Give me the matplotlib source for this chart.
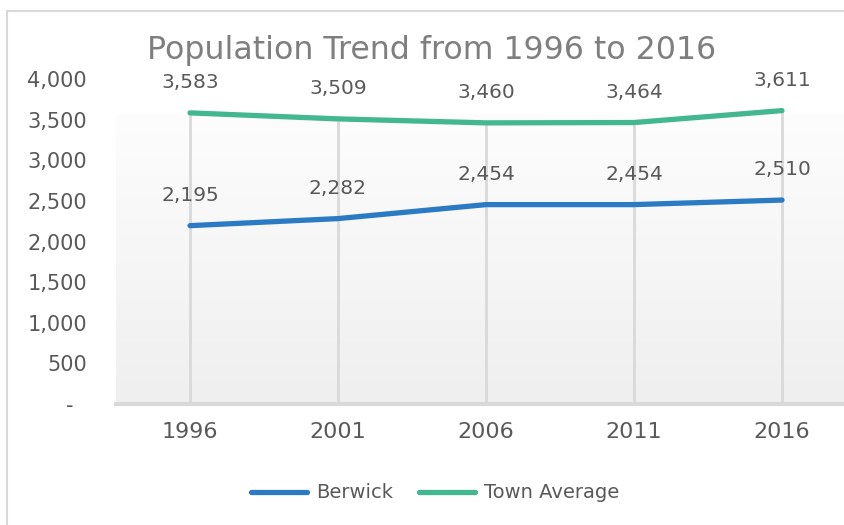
import matplotlib.pyplot as plt
import numpy as np
from matplotlib.lines import Line2D
from matplotlib.patches import Rectangle

years = ['1996', '2001', '2006', '2011', '2016']
berwick = [2195, 2282, 2454, 2454, 2510]
town_avg = [3583, 3509, 3460, 3464, 3611]
y_ticks = [0, 500, 1000, 1500, 2000, 2500, 3000, 3500, 4000]

blue = '#2b7bc4'
green = '#43b78f'
text_gray = '#595959'

plt.rcParams['font.family'] = ['DejaVu Sans']

fig = plt.figure(figsize=(8.44, 5.25), dpi=100)

# outer chart border (runs off the right and bottom edges)
fig.patches.append(Rectangle((7 / 844, -0.1), 1.2, (525 - 11) / 525 + 0.1,
                             transform=fig.transFigure, fill=False,
                             edgecolor='#d9d9d9', linewidth=1.5))

ax = fig.add_axes([116 / 844, (525 - 404) / 525, 740 / 844, 325 / 525])
ax.set_xlim(-0.5, 4.5)
ax.set_ylim(0, 4000)
ax.patch.set_alpha(0)

# gradient plot area fill
grad = np.linspace(0, 1, 256).reshape(-1, 1)
cmap = plt.matplotlib.colors.LinearSegmentedColormap.from_list('g', ['#efefef', '#fdfdfd'])
ax.imshow(grad, extent=(-0.5, 4.5, 0, 3560), origin='lower', aspect='auto',
          cmap=cmap, zorder=0)

x = np.arange(len(years))
# drop lines
tops = np.maximum(berwick, town_avg)
ax.vlines(x, 0, tops, colors='#d9d9d9', linewidth=2, zorder=1)

ax.plot(x, berwick, color=blue, linewidth=3.8, solid_capstyle='round', zorder=3)
ax.plot(x, town_avg, color=green, linewidth=3.8, solid_capstyle='round', zorder=3)

for xi, v in zip(x, berwick):
    ax.annotate(f'{v:,}', (xi, v), xytext=(0, 15), textcoords='offset points',
                ha='center', va='bottom', fontsize=14.5, color=text_gray)
for xi, v in zip(x, town_avg):
    ax.annotate(f'{v:,}', (xi, v), xytext=(0, 15), textcoords='offset points',
                ha='center', va='bottom', fontsize=14.5, color=text_gray)

ax.set_xticks(x)
ax.set_xticklabels(years, fontsize=16, color=text_gray)
ax.set_yticks(y_ticks)
ax.set_yticklabels([f'{v:,}' if v else '-  ' for v in y_ticks], fontsize=15, color=text_gray)
ax.tick_params(length=0)
ax.tick_params(axis='x', pad=13)
ax.tick_params(axis='y', pad=21)
for s in ['top', 'right', 'left']:
    ax.spines[s].set_visible(False)
ax.spines['bottom'].set_color('#d9d9d9')
ax.spines['bottom'].set_linewidth(3)

fig.text(432 / 844, (525 - 50) / 525, 'Population Trend from 1996 to 2016',
         ha='center', va='center', fontsize=22.8, color='#7f7f7f')

handles = [Line2D([], [], color=blue, linewidth=3.8, solid_capstyle='round'),
           Line2D([], [], color=green, linewidth=3.8, solid_capstyle='round')]
fig.legend(handles, ['Berwick', 'Town Average'], loc='center',
           bbox_to_anchor=(435 / 844, (525 - 493) / 525), ncol=2, frameon=False,
           fontsize=14, labelcolor=text_gray, handlelength=2.9, columnspacing=1.3,
           handletextpad=0.45)

fig.savefig('out.png', dpi=100)
